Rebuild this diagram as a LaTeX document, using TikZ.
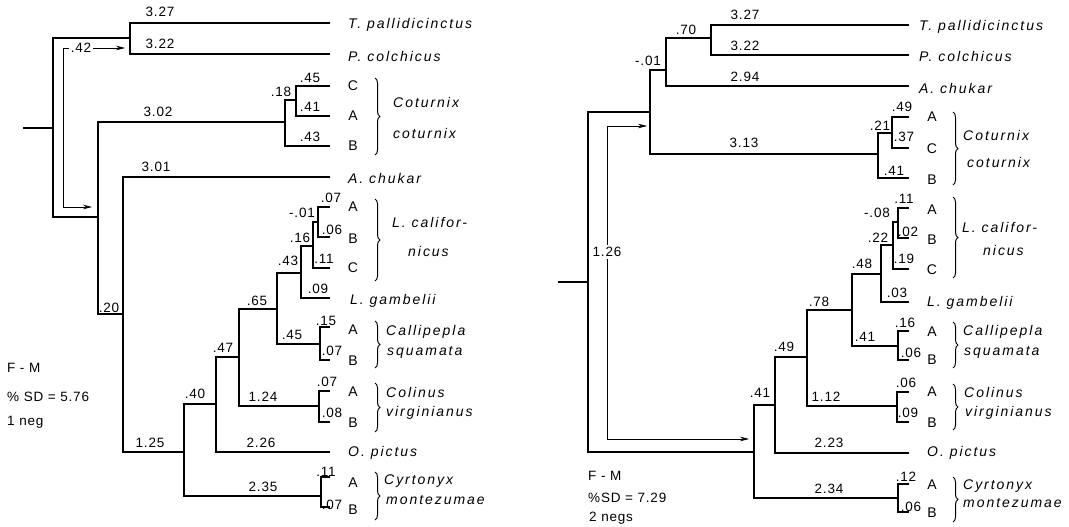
\documentclass[tikz,border=0pt]{standalone}
\usepackage{fontspec}
\setmainfont{Liberation Sans}[LetterSpace=6]
\newfontfamily\spfont{Liberation Sans}[LetterSpace=14]
\usetikzlibrary{arrows.meta,decorations.pathreplacing}

\begin{document}
\begin{tikzpicture}[x=1pt,y=-1pt,
    tree/.style={line width=1.3pt},
    len/.style={font=\fontsize{13.5}{15}\selectfont, inner sep=0pt},
    tip/.style={font=\fontsize{14}{16}\selectfont, inner sep=0pt},
    taxon/.style={font={\spfont\itshape\fontsize{14}{16}\selectfont}, anchor=west, inner sep=0pt},
    note/.style={font=\fontsize{13.5}{15}\selectfont, anchor=west, inner sep=0pt},
    grp/.style={decorate, decoration={brace, amplitude=5pt}, line width=1pt},
    move/.style={line width=0.7pt, -{Stealth[length=9pt,width=4.5pt]}}]
    \useasboundingbox (0,0) rectangle (1069,527);

    % ---------- left tree ----------
    \foreach \n/\x/\y in {Lstub/23/128, Lr/53/128, Ln1/130/38, Ln2/98/217, Lcot/285/122,
        Lcot1/296/100, Ln3/123/314, Ln4/184/452, Ln5/216/404, Ln6/239/357, Ln7/277/309,
        Ln8/301/273, Ln9/313/246, Ln10/318/222, Lcal/320/344, Lcol/319/406, Lcyr/321/496}
      \coordinate (\n) at (\x,\y);
    \foreach \n/\y in {Ltpal/23, Lpcol/54, LcotC/86, LcotA/116, LcotB/146, Lachu/177,
        LlcaA/207, LlcaB/237, LlcaC/268, Lgamb/298, LcalA/327, LcalB/360, LcolA/391,
        LcolB/422, Lopic/452, LcyrA/477, LcyrB/507}
      \coordinate (\n) at (330,\y);
    \draw[tree] (Lstub) -- (Lr);
    \foreach \p/\c in {Lr/Ln1, Lr/Ln2, Ln1/Ltpal, Ln1/Lpcol, Ln2/Lcot, Ln2/Ln3, Lcot/Lcot1,
        Lcot/LcotB, Lcot1/LcotC, Lcot1/LcotA, Ln3/Lachu, Ln3/Ln4, Ln4/Ln5, Ln4/Lcyr,
        Ln5/Ln6, Ln5/Lopic, Ln6/Ln7, Ln6/Lcol, Ln7/Ln8, Ln7/Lcal, Ln8/Ln9, Ln8/Lgamb,
        Ln9/Ln10, Ln9/LlcaC, Ln10/LlcaA, Ln10/LlcaB, Lcal/LcalA, Lcal/LcalB,
        Lcol/LcolA, Lcol/LcolB, Lcyr/LcyrA, Lcyr/LcyrB}
      \draw[tree] (\p) |- (\c);
    % branch lengths
    \foreach \x/\y/\t [count=\i] in {160/12/3.27, 160/44/3.22, 158/112/3.02, 281/92/.18,
        310/78/.45, 310/107/.41, 310/137/.43, 156/167/3.01, 109/308/.20, 302/213/-.01,
        331/198/.07, 332/230/.06, 300/238/.16, 324/259/.11, 288/261/.43, 318/289/.09,
        257/301/.65, 326/321/.15, 292/335/.45, 332/351/.07, 223/348/.47, 327/382/.07,
        195/394/.40, 263/397/1.24, 332/413/.08, 261/443/2.26, 150/443/1.25,
        326/472/.11, 263/487/2.35, 332/505/.07}
      \node[len] (Ll\i) at (\x,\y) {\t};
    % moved branch
    \node[len, inner sep=2pt] (L42) at (81,48) {.42};
    \coordinate (Lmvtop) at (125,48);
    \coordinate (Lmvc) at (63,207);
    \coordinate (Lmvbot) at (92,207);
    \draw[move] (L42.east) -- (Lmvtop);
    \draw[move] (L42.west) -| (Lmvc) -- (Lmvbot);
    % populations and taxa
    \foreach \t/\y [count=\i] in {C/86, A/116, B/146, A/207, B/239, C/268, A/330, B/361,
        A/392, B/423, A/483, B/510}
      \node[tip] (Lt\i) at (353,\y) {\t};
    \foreach \x/\y/\t [count=\i] in {348/25/T. pallidicinctus, 348/56/P. colchicus,
        393/102/Coturnix, 393/133/coturnix, 348/178/A. chukar, 392/222/L. califor-,
        408/251/nicus, 350/301/L. gambelii, 386/332/Callipepla, 387/352/squamata,
        386/392/Colinus, 386/413/virginianus, 348/453/O. pictus, 384/481/Cyrtonyx,
        386/500/montezumae}
      \node[taxon] (Lx\i) at (\x,\y) {\t};
    \foreach \a/\b in {78/155, 199/281, 321/368, 383/432, 472/520}
      \draw[grp] (375,\a) -- (375,\b);
    \node[note] (Lfm) at (7,368) {F - M};
    \node[note] (Lsd) at (7,397) {\% SD = 5.76};
    \node[note] (Lneg) at (7,422) {1 neg};

    % ---------- right tree ----------
    \foreach \n/\x/\y in {Rstub/558/282, Rr/588/282, Rn1/650/112, Rn2/754/452, Rn3/666/70,
        Rn4/711/38, Rcot/878/154, Rcot1/892/133, Rn5/775/405, Rn6/807/357, Rn7/852/310,
        Rn8/881/274, Rn9/893/245, Rn10/898/222, Rcal/898/346, Rcol/897/406, Rcyr/898/498}
      \coordinate (\n) at (\x,\y);
    \foreach \n/\y in {Rtpal/25, Rpcol/55, Rachu/86, RcotA/117, RcotC/148, RcotB/178,
        RlcaA/208, RlcaB/238, RlcaC/269, Rgamb/302, RcalA/331, RcalB/360, RcolA/392,
        RcolB/422, Ropic/453, RcyrA/484, RcyrB/512}
      \coordinate (\n) at (909,\y);
    \draw[tree] (Rstub) -- (Rr);
    \foreach \p/\c in {Rr/Rn1, Rr/Rn2, Rn1/Rn3, Rn1/Rcot, Rn3/Rn4, Rn3/Rachu, Rn4/Rtpal,
        Rn4/Rpcol, Rcot/Rcot1, Rcot/RcotB, Rcot1/RcotA, Rcot1/RcotC, Rn2/Rn5, Rn2/Rcyr,
        Rn5/Rn6, Rn5/Ropic, Rn6/Rn7, Rn6/Rcol, Rn7/Rn8, Rn7/Rcal, Rn8/Rn9, Rn8/Rgamb,
        Rn9/Rn10, Rn9/RlcaC, Rn10/RlcaA, Rn10/RlcaB, Rcal/RcalA, Rcal/RcalB,
        Rcol/RcolA, Rcol/RcolB, Rcyr/RcyrA, Rcyr/RcyrB}
      \draw[tree] (\p) |- (\c);
    \foreach \x/\y/\t [count=\i] in {745/15/3.27, 745/46/3.22, 686/30/.70, 648/61/-.01,
        745/77/2.94, 744/143/3.13, 880/126/.21, 902/107/.49, 904/137/.37, 894/171/.41,
        904/199/.11, 877/213/-.08, 908/232/.02, 878/238/.22, 904/259/.19, 862/264/.48,
        897/293/.03, 819/302/.78, 905/323/.16, 865/337/.41, 911/353/.06, 784/347/.49,
        906/383/.06, 760/393/.41, 826/397/1.12, 908/413/.09, 829/443/2.23,
        906/477/.12, 829/489/2.34, 911/507/.06}
      \node[len] (Rl\i) at (\x,\y) {\t};
    % moved branch
    \node[len, inner sep=2pt] (R126) at (607,252) {1.26};
    \coordinate (Rmvtop) at (647,126);
    \coordinate (Rmvbot) at (749,439);
    \draw[move] (R126.north) |- (Rmvtop);
    \draw[move] (R126.south) |- (Rmvbot);
    % populations and taxa
    \foreach \t/\y [count=\i] in {A/117, C/149, B/180, A/210, B/240, C/270, A/332, B/360,
        A/392, B/423, A/485, B/513}
      \node[tip] (Rt\i) at (932,\y) {\t};
    \foreach \x/\y/\t [count=\i] in {919/27/T. pallidicinctus, 919/56/P. colchicus,
        919/88/A. chukar, 963/135/Coturnix, 967/162/coturnix, 962/227/L. califor-,
        983/250/nicus, 927/303/L. gambelii, 963/332/Callipepla, 964/352/squamata,
        964/392/Colinus, 965/413/virginianus, 927/453/O. pictus, 963/486/Cyrtonyx,
        963/503/montezumae}
      \node[taxon] (Rx\i) at (\x,\y) {\t};
    \foreach \a/\b in {112/185, 197/278, 322/368, 384/430, 477/522}
      \draw[grp] (953,\a) -- (953,\b);
    \node[note] (Rfm) at (588,476) {F - M};
    \node[note] (Rsd) at (588,498) {\%SD = 7.29};
    \node[note] (Rneg) at (589,518) {2 negs};
\end{tikzpicture}
\end{document}
